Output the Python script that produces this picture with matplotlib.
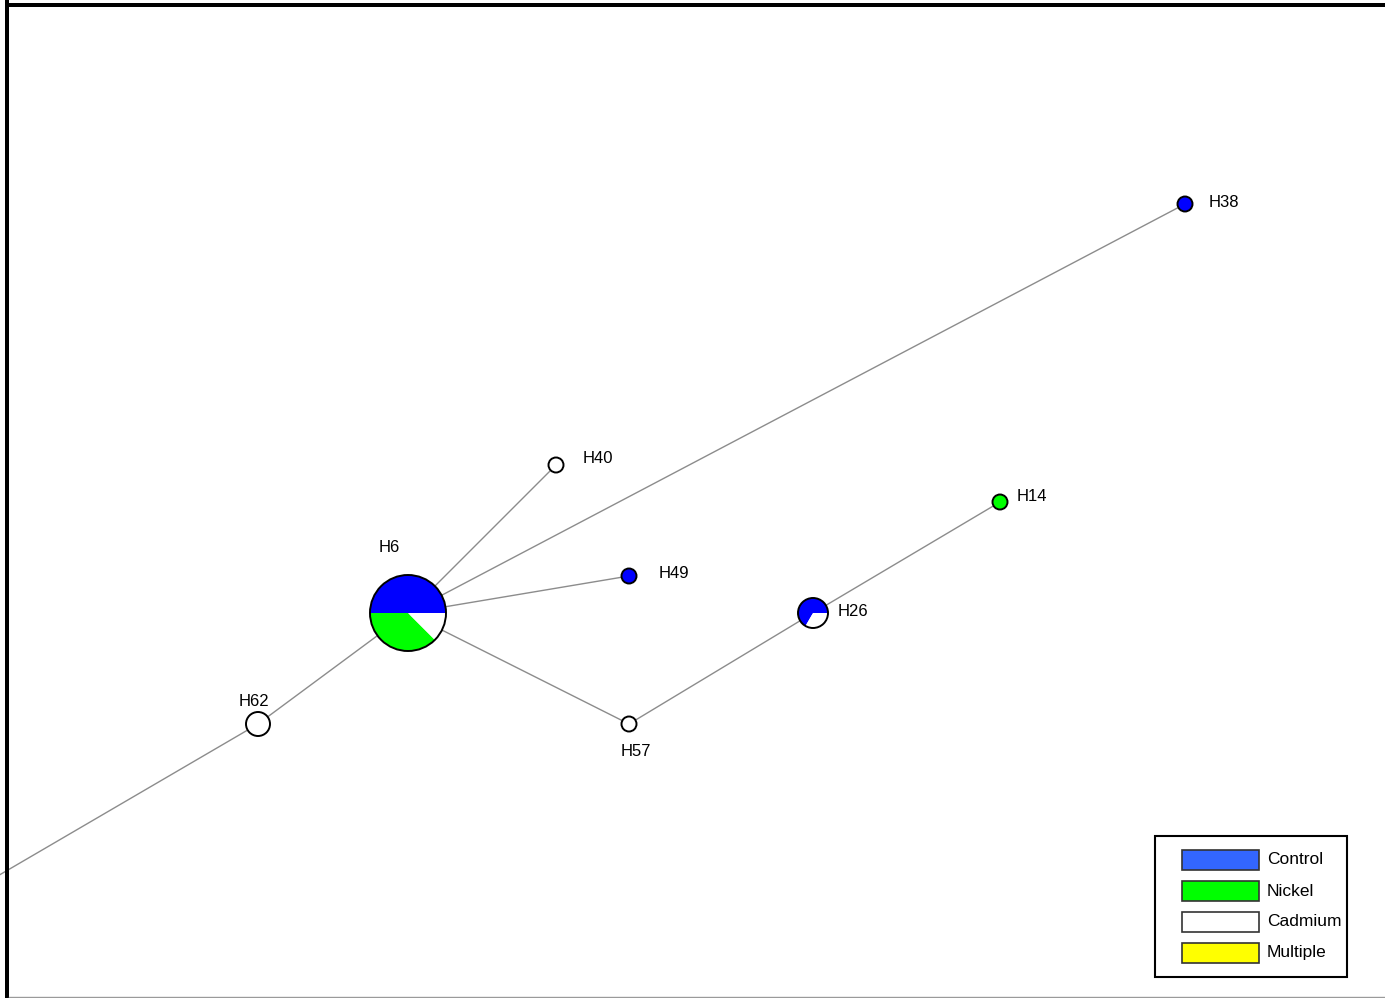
import matplotlib
matplotlib.use("Agg")
from matplotlib import pyplot as plt
from matplotlib.patches import Wedge, Circle, Rectangle

plt.rcParams['font.family'] = ['Liberation Sans', 'DejaVu Sans']

# haplotype network layout (x to the right, y upward)
nodes = ["H6", "H40", "H49", "H38", "H57", "H26", "H14", "H62"]
node_x = [408, 556, 629, 1185, 629, 813, 1000, 258]
node_y = [385, 533, 422, 794, 274, 385, 496, 274]

# sample counts per group: Control, Nickel, Cadmium, Multiple
groups = ["Control", "Nickel", "Cadmium", "Multiple"]
counts = {
    "H6":  [4, 3, 1, 0],
    "H40": [0, 0, 1, 0],
    "H49": [1, 0, 0, 0],
    "H38": [1, 0, 0, 0],
    "H57": [0, 0, 1, 0],
    "H26": [2, 0, 1, 0],
    "H14": [0, 1, 0, 0],
    "H62": [0, 0, 1, 0],
}

edges = [("H6", "H40"), ("H6", "H38"), ("H6", "H49"), ("H6", "H57"),
         ("H57", "H26"), ("H26", "H14"), ("H6", "H62"), ("H62", "out")]
# the H62 branch runs off the left edge
out_x, out_y = -100, 65

pie_colors = ["#0000ff", "#00ff00", "#ffffff", "#ffff00"]
legend_colors = ["#3366ff", "#00ff00", "#ffffff", "#ffff00"]

radius = {"H6": 38, "H26": 15, "H62": 12}
label_off = {"H6": (-19, 66, "center"), "H40": (27, 7, "left"),
             "H49": (30, 3, "left"), "H38": (24, 2, "left"),
             "H57": (7, -28, "center"), "H26": (25, 2, "left"),
             "H14": (17, 6, "left"), "H62": (-4, 23, "center")}

W, H = 1385, 998
fig = plt.figure(figsize=(W / 100, H / 100), dpi=100)
ax = fig.add_axes([0, 0, 1, 1])
ax.set_xlim(0, W)
ax.set_ylim(0, H)
ax.axis("off")

pos = {n: (x, y) for n, x, y in zip(nodes, node_x, node_y)}
pos["out"] = (out_x, out_y)

for a, b in edges:
    (x1, y1), (x2, y2) = pos[a], pos[b]
    ax.plot([x1, x2], [y1, y2], color="#8c8c8c", lw=1.0, zorder=1)

for n in nodes:
    x, y = pos[n]
    r = radius.get(n, 7.5)
    c = counts[n]
    total = float(sum(c))
    start = 0.0
    for k, v in enumerate(c):
        if v == 0:
            continue
        sweep = 360.0 * v / total
        ax.add_patch(Wedge((x, y), r, start, start + sweep,
                           facecolor=pie_colors[k], edgecolor="none", zorder=2))
        start += sweep
    ax.add_patch(Circle((x, y), r, facecolor="none", edgecolor="black",
                        lw=1.4, zorder=3))
    dx, dy, ha = label_off[n]
    ax.text(x + dx, y + dy, n, fontsize=12, ha=ha, va="center", zorder=4)

# frame
ax.add_patch(Rectangle((5, 0), 4, H, facecolor="black", edgecolor="none", zorder=5))
ax.add_patch(Rectangle((5, 991), W, 4, facecolor="black", edgecolor="none", zorder=5))
ax.plot([9, W], [1.5, 1.5], color="#9a9a9a", lw=1.0, zorder=5)

# legend box, laid out in pixels
ax.add_patch(Rectangle((1155, 21), 192, 141, facecolor="white",
                       edgecolor="black", lw=1.5, zorder=6))
for i, (g, c) in enumerate(zip(groups, legend_colors)):
    top = 148 - 31 * i
    ax.add_patch(Rectangle((1182, top - 20), 77, 20, facecolor=c,
                           edgecolor="#333333", lw=1.2, zorder=7))
    ax.text(1267, top - 10, g, fontsize=12.5, ha="left", va="center", zorder=7)

fig.savefig("out.png", dpi=100)
